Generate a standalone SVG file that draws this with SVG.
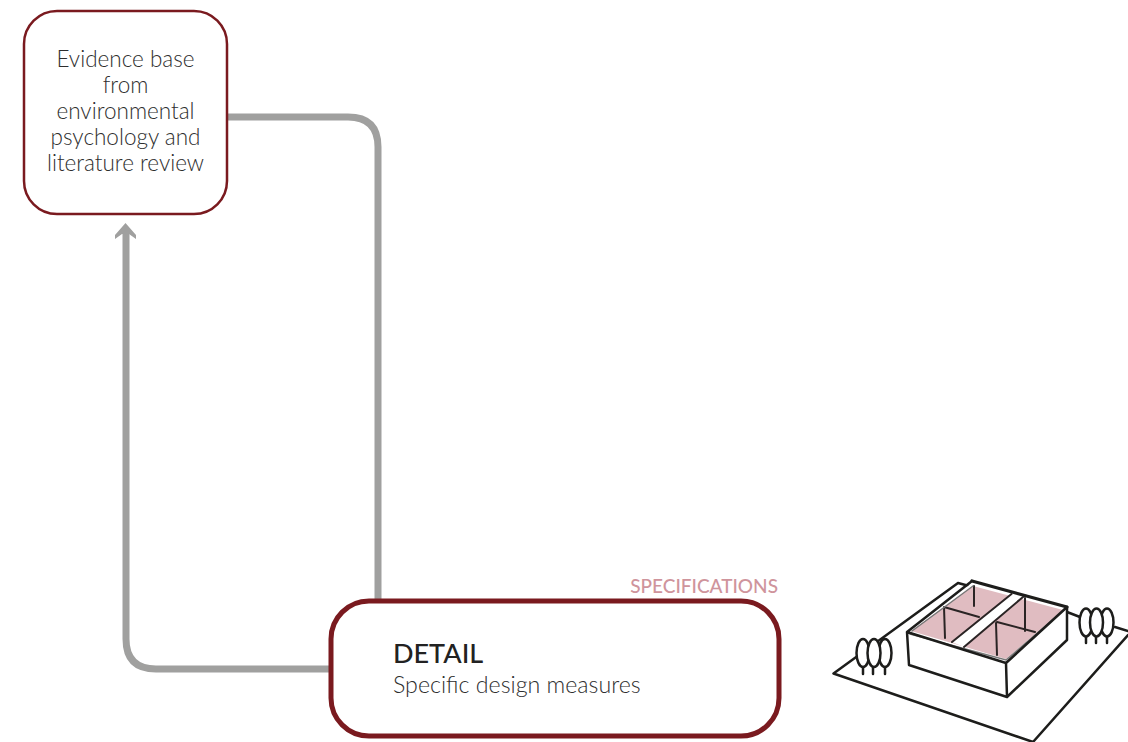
<svg xmlns="http://www.w3.org/2000/svg" width="1128" height="742" viewBox="0 0 1128 742">
<style>
.t{font-family:"Lato","Open Sans","Liberation Sans",sans-serif;font-weight:300;fill:#2e2e2e}
.c{text-anchor:middle;font-size:22.500px}
.conn{fill:none;stroke:#a0a09f;stroke-width:7}
.box{fill:#fff;stroke:#7a1a1f}
.k{fill:none;stroke:#1d1d1b;stroke-width:2.500;stroke-linejoin:round;stroke-linecap:round}
.kt{fill:#fff;stroke:#1d1d1b;stroke-width:2.500}
.w{fill:none;stroke:#2a2424;stroke-width:2;stroke-linecap:round}
</style>
<rect width="1128" height="742" fill="#fff"/>
<g id="connectors">
<path class="conn" d="M227 117H348Q378 117 378 147V602"/>
<path class="conn" d="M332 669H156Q126 669 126 639V232"/>
<polygon points="125.500,223 136,235 136,239 129,234 122,234 115,239 115,235" fill="#a0a09f"/>
</g>
<g id="evidence">
<rect class="box" x="24" y="11" width="203" height="203" rx="33" stroke-width="2.500"/>
<text class="t c" x="125.500" y="66.500">Evidence base</text>
<text class="t c" x="125.500" y="92.500">from</text>
<text class="t c" x="125.500" y="118.500">environmental</text>
<text class="t c" x="125.500" y="144.500">psychology and</text>
<text class="t c" x="125.500" y="170.500">literature review</text>
</g>
<g id="detail">
<rect class="box" x="331" y="601" width="448" height="135" rx="38" stroke-width="5"/>
<text x="393" y="663" font-family="Lato,'Open Sans','Liberation Sans',sans-serif" font-size="27" font-weight="500" fill="#222">DETAIL</text>
<text class="t" x="393" y="692.500" font-size="23.200">Specific design measures</text>
</g>
<g id="specifications">
<text x="778" y="593" text-anchor="end" font-family="Lato,'Open Sans','Liberation Sans',sans-serif" font-size="19" font-weight="500" fill="#cf949c">SPECIFICATIONS</text>
</g>
<g id="site">
<path class="k" d="M958 583L833.500 673.500L1033 742M1033 742L1128 635M958 583L973 587M1067 612L1080 617M1115 627L1128 631"/>
<g id="trees-left">
<path class="k" d="M863 674V660M873 674V660M885 674V660"/>
<ellipse class="kt" cx="863" cy="653" rx="6.500" ry="14"/>
<ellipse class="kt" cx="885" cy="653" rx="6.500" ry="14"/>
<ellipse class="kt" cx="874" cy="653" rx="6.500" ry="14"/>
</g>
<g id="trees-right">
<path class="k" d="M1086 643V630M1096 643V630M1107 643V630"/>
<ellipse class="kt" cx="1086" cy="622.500" rx="6.500" ry="14"/>
<ellipse class="kt" cx="1107" cy="622.500" rx="6.500" ry="14"/>
<ellipse class="kt" cx="1096.500" cy="622.500" rx="6.500" ry="14"/>
</g>
<g id="building">
<path d="M907 632L973 582L1067 607L1067 640L1007 697L909 665Z" fill="#fff"/>
<polygon points="911,631 973,586 1063,610 1006,659" fill="#e0bcc1"/>
<polygon points="1011.500,594 1023,597 964,647 952,642" fill="#fff"/>
<path class="w" d="M1011.500 594L952 642M1023 597L964 647M944 607L979 617M997 622L1035 632M974 586V606M1025 598V631M944 607L945 638M996 623L997 655"/>
<path class="w" style="stroke:#777;stroke-width:1.500" d="M910 634L1006 660L1064 610M912 631L973 586"/>
<path class="k" d="M907 632L1006 663L1067 607M1006 663L1007 697L1067 640V607M1007 697L909 665L907 632L972 581"/>
<path class="k" style="stroke-width:3.200" d="M972 581L1067 607"/>
</g>
</g>
</svg>
